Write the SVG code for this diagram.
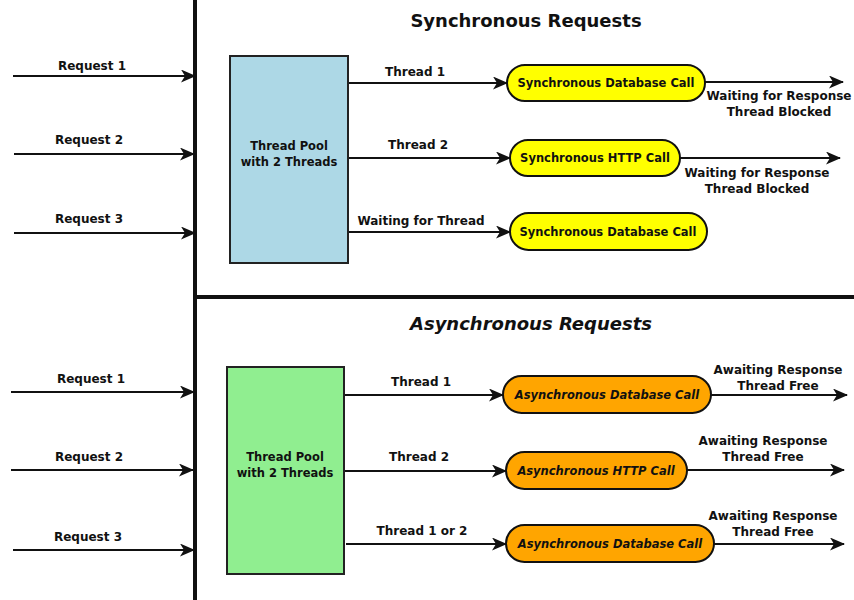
<svg xmlns="http://www.w3.org/2000/svg" width="854" height="600" viewBox="0 0 854 600">
<style>
text{font-family:"DejaVu Sans","Verdana",sans-serif;font-weight:bold;fill:#111;text-anchor:middle}
.t{font-size:11.5px}
.h{font-size:18px}
.l{font-size:12px}
.i{font-style:italic}
.ar{stroke:#111;stroke-width:2;fill:none;marker-end:url(#ah)}
.pool{stroke:#222;stroke-width:2}
.pill{stroke:#111;stroke-width:2}
</style>
<defs>
<marker id="ah" viewBox="0 0 15 13" markerWidth="15" markerHeight="13" refX="14" refY="6.5" orient="auto" markerUnits="userSpaceOnUse">
<path d="M0,0 L15,6.5 L0,13 L4,6.5 z" fill="#111"/>
</marker>
</defs>
<rect width="854" height="600" fill="#fff"/>
<g id="frame">
<line x1="195" y1="0" x2="195" y2="600" stroke="#111" stroke-width="4"/>
<line x1="195" y1="297" x2="854" y2="297" stroke="#111" stroke-width="4"/>
</g>
<g id="titles">
<text class="h" x="526" y="27">Synchronous Requests</text>
<text class="h i" x="531" y="330">Asynchronous Requests</text>
</g>
<g id="connectors">
<line class="ar" x1="13" y1="76" x2="195" y2="76"/>
<line class="ar" x1="14" y1="154" x2="194" y2="154"/>
<line class="ar" x1="14" y1="233" x2="195" y2="233"/>
<line class="ar" x1="348" y1="83" x2="507" y2="83"/>
<line class="ar" x1="348" y1="158" x2="510" y2="158"/>
<line class="ar" x1="349" y1="232" x2="510" y2="232"/>
<line class="ar" x1="705" y1="82" x2="843" y2="82"/>
<line class="ar" x1="680" y1="158" x2="840" y2="158"/>
<line class="ar" x1="11" y1="392" x2="194" y2="392"/>
<line class="ar" x1="11" y1="470" x2="193" y2="470"/>
<line class="ar" x1="13" y1="550" x2="194" y2="550"/>
<line class="ar" x1="344" y1="395" x2="503" y2="395"/>
<line class="ar" x1="344" y1="471" x2="506" y2="471"/>
<line class="ar" x1="346" y1="544" x2="506" y2="544"/>
<line class="ar" x1="711" y1="395" x2="847" y2="395"/>
<line class="ar" x1="687" y1="470" x2="844" y2="470"/>
<line class="ar" x1="714" y1="544" x2="844" y2="544"/>
</g>
<g id="labels">
<text class="l" x="92" y="70">Request 1</text>
<text class="l" x="89" y="144">Request 2</text>
<text class="l" x="89" y="223">Request 3</text>
<text class="l" x="415" y="76">Thread 1</text>
<text class="l" x="418" y="149">Thread 2</text>
<text class="l" x="421" y="225">Waiting for Thread</text>
<text class="l" x="779" y="100">Waiting for Response</text>
<text class="l" x="779" y="116">Thread Blocked</text>
<text class="l" x="757" y="177">Waiting for Response</text>
<text class="l" x="757" y="193">Thread Blocked</text>
<text class="l" x="91" y="383">Request 1</text>
<text class="l" x="89" y="461">Request 2</text>
<text class="l" x="88" y="541">Request 3</text>
<text class="l" x="421" y="386">Thread 1</text>
<text class="l" x="419" y="461">Thread 2</text>
<text class="l" x="422" y="535">Thread 1 or 2</text>
<text class="l" x="778" y="374">Awaiting Response</text>
<text class="l" x="778" y="390">Thread Free</text>
<text class="l" x="763" y="445">Awaiting Response</text>
<text class="l" x="763" y="461">Thread Free</text>
<text class="l" x="773" y="520">Awaiting Response</text>
<text class="l" x="773" y="536">Thread Free</text>
</g>
<g id="syncPool">
<rect class="pool" x="230" y="56" width="118" height="207" fill="#ADD8E6"/>
<text class="t" x="289" y="150">Thread Pool</text>
<text class="t" x="289" y="166">with 2 Threads</text>
</g>
<g id="syncDb1">
<rect class="pill" x="507" y="65" width="198" height="36" rx="18" fill="#FFFF00"/>
<text class="t" x="606" y="87">Synchronous Database Call</text>
</g>
<g id="syncHttp">
<rect class="pill" x="510" y="140" width="170" height="36" rx="18" fill="#FFFF00"/>
<text class="t" x="595" y="162">Synchronous HTTP Call</text>
</g>
<g id="syncDb2">
<rect class="pill" x="510" y="213" width="197" height="37" rx="18.5" fill="#FFFF00"/>
<text class="t" x="608" y="236">Synchronous Database Call</text>
</g>
<g id="asyncPool">
<rect class="pool" x="227" y="367" width="117" height="207" fill="#90EE90"/>
<text class="t" x="285" y="461">Thread Pool</text>
<text class="t" x="285" y="477">with 2 Threads</text>
</g>
<g id="asyncDb1">
<rect class="pill" x="503" y="376" width="208" height="37" rx="18.5" fill="#FFA500"/>
<text class="t i" x="607" y="399">Asynchronous Database Call</text>
</g>
<g id="asyncHttp">
<rect class="pill" x="506" y="452" width="181" height="37" rx="18.5" fill="#FFA500"/>
<text class="t i" x="596" y="475">Asynchronous HTTP Call</text>
</g>
<g id="asyncDb2">
<rect class="pill" x="506" y="525" width="208" height="37" rx="18.5" fill="#FFA500"/>
<text class="t i" x="610" y="548">Asynchronous Database Call</text>
</g>
</svg>
